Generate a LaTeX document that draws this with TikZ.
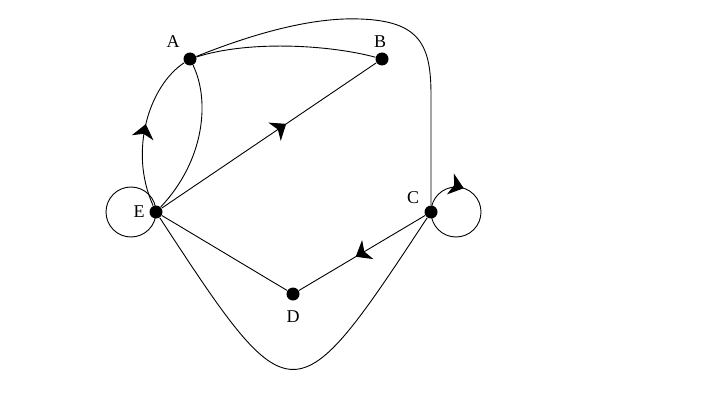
\documentclass[tikz,border=0pt]{standalone}
\usepackage{fontspec}
\setmainfont{Liberation Serif}
\usetikzlibrary{arrows.meta,decorations.markings}
\begin{document}
\begin{tikzpicture}[x=1pt,y=1pt,line width=0.9pt,
  dot/.style={circle,fill=black,minimum size=13pt,inner sep=0pt},
  lbl/.style={font=\fontsize{18}{20}\selectfont,inner sep=0pt},
  midarrow/.style={postaction={decorate,decoration={markings,
     mark=at position #1 with {\arrow{Stealth[length=14pt,width=22pt,inset=4pt]}}}}}]
\useasboundingbox (0,0) rectangle (720,405);
\node[dot] (A) at (190,346) {};
\node[dot] (B) at (382,346) {};
\node[dot] (C) at (431,193) {};
\node[dot] (D) at (293,111) {};
\node[dot] (E) at (156,193) {};
\node[lbl] (lA) at (173,363) {A};
\node[lbl] (lB) at (380,363) {B};
\node[lbl] (lC) at (413,207) {C};
\node[lbl] (lD) at (293,88) {D};
\node[lbl] (lE) at (139,193) {E};
% A-B
\draw (A) .. controls (250,365) and (330,360) .. (B);
% A-C
\draw (A) .. controls (250,370) and (310,388) .. (360,386)
      .. controls (420,384) and (431,360) .. (431,310) -- (C);
% E-A left with arrow
\draw[midarrow=0.53] (E) .. controls (128,255) and (150,320) .. (A);
% A-E right
\draw (A) .. controls (210,305) and (205,245) .. (E);
% E-B
\draw[midarrow=0.58] (E) -- (B);
% E-D
\draw (E) -- (D);
% C-D
\draw[midarrow=0.55] (C) -- (D);
% E-C bottom
\draw (E) .. controls (292,-15) and (294,-15) .. (C);
% E loop
\draw (E.center) arc[start angle=0,end angle=360,radius=25];
% C loop
\draw[midarrow=0.3] (C.center) arc[start angle=180,end angle=-180,radius=25];
\end{tikzpicture}
\end{document}
